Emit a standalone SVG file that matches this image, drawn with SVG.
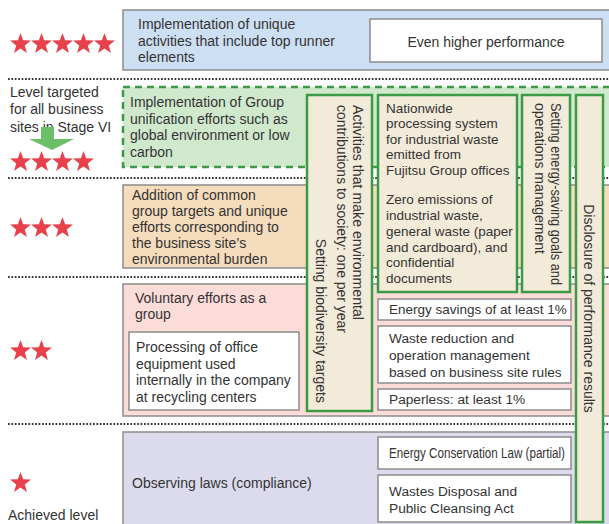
<svg xmlns="http://www.w3.org/2000/svg" xmlns:xlink="http://www.w3.org/1999/xlink" width="609" height="524" viewBox="0 0 609 524">
<style>
text{font-family:"Liberation Sans",Arial,sans-serif;font-size:14px;fill:#333;}
.row{stroke:#8c8c8c;stroke-width:1.5;}
.wbox{fill:#fff;stroke:#8c8c8c;stroke-width:1.5;}
.vbox{fill:#f3ebd9;stroke:#3c9a47;stroke-width:2.5;}
.dot{stroke:#333;stroke-width:2;stroke-dasharray:1.7 1.7;fill:none;}
.sm{font-size:13.5px;}
.wt{font-size:13.7px;}
</style>
<defs>
<path id="star" fill="#e8414b" d="M0,-11 L2.645,-3.64 L10.46,-3.4 L4.28,1.39 L6.47,8.9 L0,4.5 L-6.47,8.9 L-4.28,1.39 L-10.46,-3.4 L-2.645,-3.64 Z"/>
</defs>
<rect width="609" height="524" fill="#fff"/>

<!-- rows -->
<g id="row5">
<rect class="row" x="123" y="432" width="495" height="100" fill="#dcdbee"/>
<text x="132" y="488">Observing laws (compliance)</text>
</g>
<g id="row4">
<rect class="row" x="123" y="284" width="495" height="132" fill="#fbdcd9"/>
<text x="135" y="303">Voluntary efforts as a</text>
<text x="135" y="319">group</text>
</g>
<g id="row3">
<rect class="row" x="123" y="185" width="495" height="83" fill="#f4dcbd"/>
<text x="132" y="200">Addition of common</text>
<text x="132" y="216">group targets and unique</text>
<text x="132" y="232">efforts corresponding to</text>
<text x="132" y="248">the business site’s</text>
<text x="132" y="264">environmental burden</text>
</g>
<g id="row2">
<rect x="123" y="87" width="495" height="80" fill="#d0e9cd" stroke="#3c9a47" stroke-width="2.5" stroke-dasharray="7 5"/>
<text x="130" y="107">Implementation of Group</text>
<text x="130" y="124">unification efforts such as</text>
<text x="130" y="140">global environment or low</text>
<text x="130" y="157">carbon</text>
</g>
<g id="row1">
<rect class="row" x="123" y="10" width="495" height="60" fill="#cddff2"/>
<text x="138" y="29">Implementation of unique</text>
<text x="138" y="46">activities that include top runner</text>
<text x="138" y="62">elements</text>
</g>
<g id="even-higher">
<rect class="wbox" x="370" y="19" width="232" height="43"/>
<text x="486" y="47" text-anchor="middle">Even higher performance</text>
</g>

<!-- dotted separators -->
<g id="separators">
<line class="dot" x1="8" y1="79" x2="609" y2="79"/>
<line class="dot" x1="8" y1="178" x2="609" y2="178"/>
<line class="dot" x1="8" y1="277" x2="609" y2="277"/>
<line class="dot" x1="8" y1="424" x2="609" y2="424"/>
</g>

<!-- left labels and stars -->
<g id="level-labels">
<text x="10" y="97">Level targeted</text>
<text x="10" y="114">for all business</text>
<text x="10" y="132">sites in Stage VI</text>
<text x="8" y="520">Achieved level</text>
</g>
<g id="connectors">
<polygon fill="#6bbf66" points="41,127 54,127 54,139 74,139 52,150 29,139 41,139"/>
</g>
<g id="stars">
<use xlink:href="#star" x="20.5" y="44"/>
<use xlink:href="#star" x="41.5" y="44"/>
<use xlink:href="#star" x="62.5" y="44"/>
<use xlink:href="#star" x="83.5" y="44"/>
<use xlink:href="#star" x="104.5" y="44"/>
<use xlink:href="#star" x="20.5" y="162"/>
<use xlink:href="#star" x="41.5" y="162"/>
<use xlink:href="#star" x="62.5" y="162"/>
<use xlink:href="#star" x="83.5" y="162"/>
<use xlink:href="#star" x="20.5" y="228"/>
<use xlink:href="#star" x="41.5" y="228"/>
<use xlink:href="#star" x="62.5" y="228"/>
<use xlink:href="#star" x="20.5" y="351"/>
<use xlink:href="#star" x="41.5" y="351"/>
<use xlink:href="#star" x="20.5" y="483"/>
</g>

<!-- office equipment box -->
<g id="office-equipment">
<rect class="wbox" x="129" y="332" width="170" height="78"/>
<text x="136" y="352">Processing of office</text>
<text x="136" y="369">equipment used</text>
<text x="136" y="385">internally in the company</text>
<text x="136" y="402">at recycling centers</text>
</g>

<!-- vertical boxes -->
<g id="social-contribution">
<rect class="vbox" x="307" y="95" width="65" height="316"/>
<text transform="translate(353,105) rotate(90)" textLength="215" lengthAdjust="spacingAndGlyphs">Activities that make environmental</text>
<text transform="translate(337,105) rotate(90)" textLength="228" lengthAdjust="spacingAndGlyphs">contributions to society: one per year</text>
<text transform="translate(316,403) rotate(90)" text-anchor="end">Setting biodiversity targets</text>
</g>
<g id="waste-system">
<rect class="vbox" x="378" y="95" width="139" height="197"/>
<text class="sm" x="386" y="113">Nationwide</text>
<text class="sm" x="386" y="128">processing system</text>
<text class="sm" x="386" y="144">for industrial waste</text>
<text class="sm" x="386" y="159">emitted from</text>
<text class="sm" x="386" y="175">Fujitsu Group offices</text>
<text class="sm" x="386" y="204">Zero emissions of</text>
<text class="sm" x="386" y="220">industrial waste,</text>
<text class="sm" x="386" y="236">general waste (paper</text>
<text class="sm" x="386" y="252">and cardboard), and</text>
<text class="sm" x="386" y="267">confidential</text>
<text class="sm" x="386" y="283">documents</text>
</g>
<g id="energy-goals">
<rect class="vbox" x="522" y="95" width="48" height="197"/>
<text transform="translate(551,103) rotate(90)" textLength="182" lengthAdjust="spacingAndGlyphs">Setting energy-saving goals and</text>
<text transform="translate(535,103) rotate(90)">operations management</text>
</g>
<g id="disclosure">
<rect class="vbox" x="576" y="95" width="27" height="427"/>
<text transform="translate(584,308.5) rotate(90)" text-anchor="middle">Disclosure of performance results</text>
</g>

<!-- right white boxes -->
<g id="energy-savings">
<rect class="wbox" x="378" y="299" width="193" height="21"/>
<text class="sm" x="389" y="314">Energy savings of at least 1%</text>
</g>
<g id="waste-reduction">
<rect class="wbox" x="378" y="326" width="193" height="57"/>
<text class="wt" x="389" y="343">Waste reduction and</text>
<text class="wt" x="389" y="360">operation management</text>
<text class="wt" x="389" y="377">based on business site rules</text>
</g>
<g id="paperless">
<rect class="wbox" x="378" y="389" width="193" height="21"/>
<text class="wt" x="389" y="404">Paperless: at least 1%</text>
</g>
<g id="energy-law">
<rect class="wbox" x="378" y="437" width="193" height="32"/>
<text x="389" y="458" textLength="176" lengthAdjust="spacingAndGlyphs">Energy Conservation Law (partial)</text>
</g>
<g id="wastes-act">
<rect class="wbox" x="378" y="475" width="193" height="47"/>
<text class="wt" x="389" y="496">Wastes Disposal and</text>
<text class="wt" x="389" y="513">Public Cleansing Act</text>
</g>
</svg>
